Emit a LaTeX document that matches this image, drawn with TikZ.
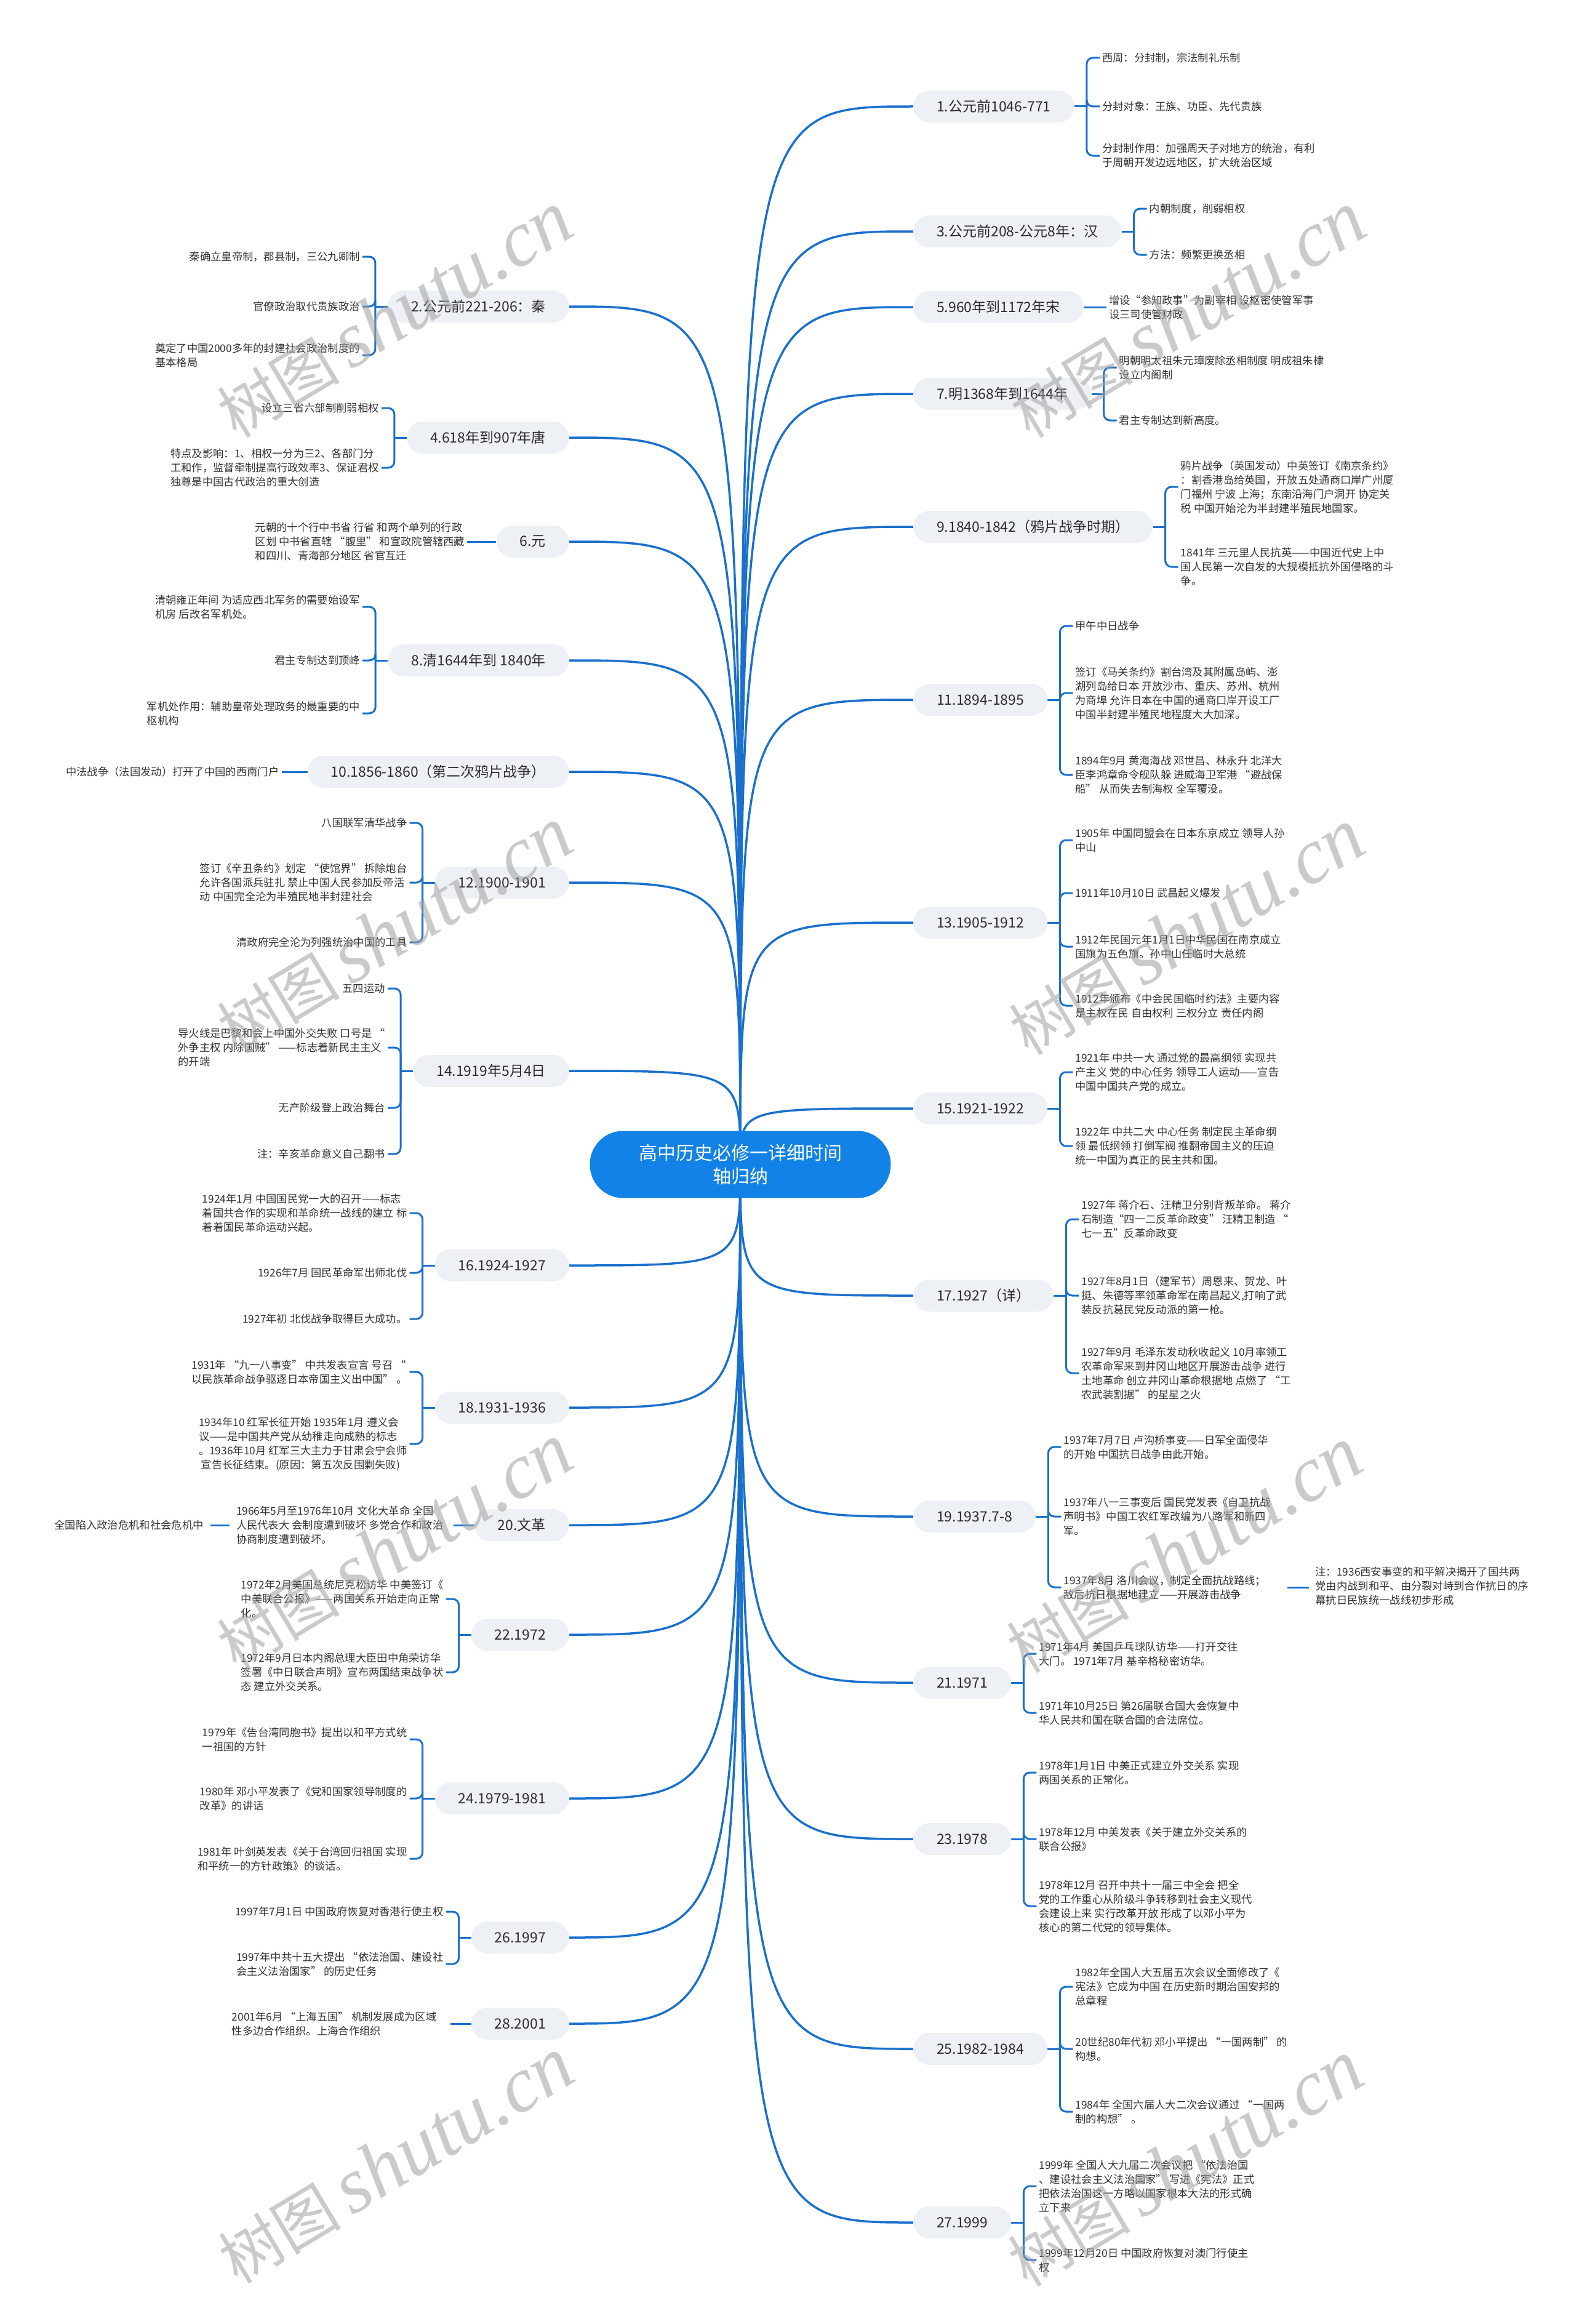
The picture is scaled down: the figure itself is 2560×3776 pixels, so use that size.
\documentclass[tikz,border=0pt]{standalone}
\usepackage{fontspec}
\setmainfont{Noto Sans CJK SC}
\newfontfamily\wmlatin{Liberation Serif}
\usetikzlibrary{calc}
\definecolor{linecol}{HTML}{1A70CD}
\definecolor{centerfill}{HTML}{1282E6}
\definecolor{lvlfill}{HTML}{EDF1F5}
\definecolor{txt}{HTML}{2B2B2B}
\definecolor{leaftxt}{HTML}{333333}
\definecolor{wmcol}{HTML}{A0A0A0}
\pgfdeclarelayer{background}
\pgfsetlayers{background,main}
\tikzset{
 lvl1/.style={fill=lvlfill, rounded corners=26pt, minimum height=52pt, inner xsep=38pt, inner ysep=0pt, text=txt, font=\fontsize{23}{28}\selectfont},
 leafbase/.style={align=left, inner sep=4pt, text=leaftxt, font=\fontsize{17.3}{23}\selectfont},
 leafR/.style={leafbase, anchor=west},
 leafL/.style={leafbase, anchor=east},
 conn/.style={draw=linecol, line width=3pt},
 brk/.style={conn, rounded corners=10pt},
 mainline/.style={draw=linecol, line width=3.5pt},
 hub/.style={fill=centerfill, text=white, rounded corners=54pt, minimum width=489pt, minimum height=109pt, align=center, font=\fontsize{30}{38}\selectfont},
 wm/.style={text=wmcol, text opacity=0.55, rotate=31, inner sep=0pt}
}
\newcommand\rnode[3]{\node[lvl1,anchor=west] (#1) at (1484,#2) {#3};
 \begin{pgfonlayer}{background}\draw[mainline] (c.center) .. controls (c.center |- #1.west) .. (#1.west);\end{pgfonlayer}}
\newcommand\lnode[3]{\node[lvl1,anchor=east] (#1) at (925,#2) {#3};
 \begin{pgfonlayer}{background}\draw[mainline] (c.center) .. controls (c.center |- #1.east) .. (#1.east);\end{pgfonlayer}}
\newcommand\rstub[1]{\begin{pgfonlayer}{background}\draw[conn] (#1.east) -- ++(20,0);\end{pgfonlayer}}
\newcommand\lstub[1]{\begin{pgfonlayer}{background}\draw[conn] (#1.west) -- ++(-20,0);\end{pgfonlayer}}
\newcommand\rleaf[4]{\node[leafR] (#1) at ($(#2.east|-0,#3)+(41,0)$) {#4};
 \begin{pgfonlayer}{background}\draw[brk] ([xshift=20pt]#2.east) |- (#1.west);\end{pgfonlayer}}
\newcommand\lleaf[4]{\node[leafL] (#1) at ($(#2.west|-0,#3)+(-41,0)$) {#4};
 \begin{pgfonlayer}{background}\draw[brk] ([xshift=-20pt]#2.west) |- (#1.east);\end{pgfonlayer}}
\begin{document}
\begin{tikzpicture}[x=1pt,y=-1pt]
\begin{pgfonlayer}{background}
\fill[white] (0,0) rectangle (2560,3776);
\end{pgfonlayer}
\useasboundingbox (0,0) rectangle (2560,3776);

\node[hub] (c) at (1203,1892) {高中历史必修一详细时间\\轴归纳};

% ---------- right side ----------
\rnode{n1}{173}{1.公元前1046-771}\rstub{n1}
\rleaf{n1a}{n1}{94}{西周：分封制，宗法制礼乐制}
\rleaf{n1b}{n1}{173}{分封对象：王族、功臣、先代贵族}
\rleaf{n1c}{n1}{253}{分封制作用：加强周天子对地方的统治，有利\\于周朝开发边远地区，扩大统治区域}

\rnode{n3}{376}{3.公元前208-公元8年：汉}\rstub{n3}
\rleaf{n3a}{n3}{339}{内朝制度，削弱相权}
\rleaf{n3b}{n3}{414}{方法：频繁更换丞相}

\rnode{n5}{499}{5.960年到1172年宋}
\node[leafR] (n5a) at ($(n5.east)+(37,0)$) {增设“参知政事”为副宰相 设枢密使管军事\\设三司使管财政};
\begin{pgfonlayer}{background}\draw[conn] (n5.east) -- (n5a.west);\end{pgfonlayer}

\rnode{n7}{640}{7.明1368年到1644年}\rstub{n7}
\rleaf{n7a}{n7}{597}{明朝明太祖朱元璋废除丞相制度 明成祖朱棣\\设立内阁制}
\rleaf{n7b}{n7}{683}{君主专制达到新高度。}

\rnode{n9}{856}{9.1840-1842（鸦片战争时期）}\rstub{n9}
\rleaf{n9a}{n9}{791}{鸦片战争（英国发动）中英签订《南京条约》\\：割香港岛给英国，开放五处通商口岸广州厦\\门福州 宁波 上海；东南沿海门户洞开 协定关\\税 中国开始沦为半封建半殖民地国家。}
\rleaf{n9b}{n9}{921}{1841年 三元里人民抗英——中国近代史上中\\国人民第一次自发的大规模抵抗外国侵略的斗\\争。}

\rnode{n11}{1137}{11.1894-1895}\rstub{n11}
\rleaf{n11a}{n11}{1017}{甲午中日战争}
\rleaf{n11b}{n11}{1126}{签订《马关条约》割台湾及其附属岛屿、澎\\湖列岛给日本 开放沙市、重庆、苏州、杭州\\为商埠 允许日本在中国的通商口岸开设工厂\\中国半封建半殖民地程度大大加深。}
\rleaf{n11c}{n11}{1259}{1894年9月 黄海海战 邓世昌、林永升 北洋大\\臣李鸿章命令舰队躲 进威海卫军港 “避战保\\船” 从而失去制海权 全军覆没。}

\rnode{n13}{1499}{13.1905-1912}\rstub{n13}
\rleaf{n13a}{n13}{1365}{1905年 中国同盟会在日本东京成立 领导人孙\\中山}
\rleaf{n13b}{n13}{1451}{1911年10月10日 武昌起义爆发}
\rleaf{n13c}{n13}{1538}{1912年民国元年1月1日中华民国在南京成立\\国旗为五色旗。孙中山任临时大总统}
\rleaf{n13d}{n13}{1634}{1912年颁布《中会民国临时约法》主要内容\\是主权在民 自由权利 三权分立 责任内阁}

\rnode{n15}{1801}{15.1921-1922}\rstub{n15}
\rleaf{n15a}{n15}{1742}{1921年 中共一大 通过党的最高纲领 实现共\\产主义 党的中心任务 领导工人运动——宣告\\中国中国共产党的成立。}
\rleaf{n15b}{n15}{1862}{1922年 中共二大 中心任务 制定民主革命纲\\领 最低纲领 打倒军阀 推翻帝国主义的压迫\\统一中国为真正的民主共和国。}

\rnode{n17}{2105}{17.1927（详）}\rstub{n17}
\rleaf{n17a}{n17}{1981}{1927年 蒋介石、汪精卫分别背叛革命。 蒋介\\石制造“四一二反革命政变” 汪精卫制造 “\\七一五”反革命政变}
\rleaf{n17b}{n17}{2105}{1927年8月1日（建军节）周恩来、贺龙、叶\\挺、朱德等率领革命军在南昌起义,打响了武\\装反抗葛民党反动派的第一枪。}
\rleaf{n17c}{n17}{2231}{1927年9月 毛泽东发动秋收起义 10月率领工\\农革命军来到井冈山地区开展游击战争 进行\\土地革命 创立井冈山革命根据地 点燃了 “工\\农武装割据” 的星星之火}

\rnode{n19}{2464}{19.1937.7-8}\rstub{n19}
\rleaf{n19a}{n19}{2351}{1937年7月7日 卢沟桥事变——日军全面侵华\\的开始 中国抗日战争由此开始。}
\rleaf{n19b}{n19}{2464}{1937年八一三事变后 国民党发表《自卫抗战\\声明书》中国工农红军改编为八路军和新四\\军。}
\rleaf{n19c}{n19}{2579}{1937年8月 洛川会议，制定全面抗战路线；\\敌后抗日根据地建立——开展游击战争}
\node[leafR] (n19d) at ($(n19c.east)+(72,-2)$) {注：1936西安事变的和平解决揭开了国共两\\党由内战到和平、由分裂对峙到合作抗日的序\\幕抗日民族统一战线初步形成};
\begin{pgfonlayer}{background}\draw[conn, shorten <=31pt, shorten >=6pt] (n19c.east) -- (n19c.east -| n19d.west);\end{pgfonlayer}

\rnode{n21}{2734}{21.1971}\rstub{n21}
\rleaf{n21a}{n21}{2687}{1971年4月 美国乒乓球队访华——打开交往\\大门。 1971年7月 基辛格秘密访华。}
\rleaf{n21b}{n21}{2783}{1971年10月25日 第26届联合国大会恢复中\\华人民共和国在联合国的合法席位。}

\rnode{n23}{2988}{23.1978}\rstub{n23}
\rleaf{n23a}{n23}{2880}{1978年1月1日 中美正式建立外交关系 实现\\两国关系的正常化。}
\rleaf{n23b}{n23}{2988}{1978年12月 中美发表《关于建立外交关系的\\联合公报》}
\rleaf{n23c}{n23}{3097}{1978年12月 召开中共十一届三中全会 把全\\党的工作重心从阶级斗争转移到社会主义现代\\会建设上来 实行改革开放 形成了以邓小平为\\核心的第二代党的领导集体。}

\rnode{n25}{3329}{25.1982-1984}\rstub{n25}
\rleaf{n25a}{n25}{3228}{1982年全国人大五届五次会议全面修改了《\\宪法》它成为中国 在历史新时期治国安邦的\\总章程}
\rleaf{n25b}{n25}{3329}{20世纪80年代初 邓小平提出 “一国两制” 的\\构想。}
\rleaf{n25c}{n25}{3431}{1984年 全国六届人大二次会议通过 “一国两\\制的构想” 。}

\rnode{n27}{3611}{27.1999}\rstub{n27}
\rleaf{n27a}{n27}{3552}{1999年 全国人大九届二次会议把 “依法治国\\、建设社会主义法治国家” 写进《宪法》正式\\把依法治国这一方略以国家根本大法的形式确\\立下来}
\rleaf{n27b}{n27}{3672}{1999年12月20日 中国政府恢复对澳门行使主\\权}

% ---------- left side ----------
\lnode{n2}{498}{2.公元前221-206：秦}\lstub{n2}
\lleaf{n2a}{n2}{417}{秦确立皇帝制，郡县制，三公九卿制}
\lleaf{n2b}{n2}{498}{官僚政治取代贵族政治}
\lleaf{n2c}{n2}{577}{奠定了中国2000多年的封建社会政治制度的\\基本格局}

\lnode{n4}{711}{4.618年到907年唐}\lstub{n4}
\lleaf{n4a}{n4}{663}{设立三省六部制削弱相权}
\lleaf{n4b}{n4}{760}{特点及影响：1、相权一分为三2、各部门分\\工和作，监督牵制提高行政效率3、保证君权\\独尊是中国古代政治的重大创造}

\lnode{n6}{880}{6.元}
\node[leafL] (n6a) at ($(n6.west)+(-47,0)$) {元朝的十个行中书省 行省 和两个单列的行政\\区划 中书省直辖 “腹里” 和宣政院管辖西藏\\和四川、青海部分地区 省官互迁};
\begin{pgfonlayer}{background}\draw[conn] (n6.west) -- (n6a.east);\end{pgfonlayer}

\lnode{n8}{1073}{8.清1644年到 1840年}\lstub{n8}
\lleaf{n8a}{n8}{986}{清朝雍正年间 为适应西北军务的需要始设军\\机房 后改名军机处。}
\lleaf{n8b}{n8}{1073}{君主专制达到顶峰}
\lleaf{n8c}{n8}{1159}{军机处作用：辅助皇帝处理政务的最重要的中\\枢机构}

\lnode{n10}{1254}{10.1856-1860（第二次鸦片战争）}
\node[leafL] (n10a) at ($(n10.west)+(-42,0)$) {中法战争（法国发动）打开了中国的西南门户};
\begin{pgfonlayer}{background}\draw[conn] (n10.west) -- (n10a.east);\end{pgfonlayer}

\lnode{n12}{1434}{12.1900-1901}\lstub{n12}
\lleaf{n12a}{n12}{1337}{八国联军清华战争}
\lleaf{n12b}{n12}{1434}{签订《辛丑条约》划定 “使馆界” 拆除炮台\\允许各国派兵驻扎 禁止中国人民参加反帝活\\动 中国完全沦为半殖民地半封建社会}
\lleaf{n12c}{n12}{1531}{清政府完全沦为列强统治中国的工具}

\lnode{n14}{1740}{14.1919年5月4日}\lstub{n14}
\lleaf{n14a}{n14}{1606}{五四运动}
\lleaf{n14b}{n14}{1702}{导火线是巴黎和会上中国外交失败 口号是 “\\外争主权 内除国贼” ——标志着新民主主义\\的开端}
\lleaf{n14c}{n14}{1800}{无产阶级登上政治舞台}
\lleaf{n14d}{n14}{1875}{注：辛亥革命意义自己翻书}

\lnode{n16}{2056}{16.1924-1927}\lstub{n16}
\lleaf{n16a}{n16}{1971}{1924年1月 中国国民党一大的召开——标志\\着国共合作的实现和革命统一战线的建立 标\\着着国民革命运动兴起。}
\lleaf{n16b}{n16}{2068}{1926年7月 国民革命军出师北伐}
\lleaf{n16c}{n16}{2143}{1927年初 北伐战争取得巨大成功。}

\lnode{n18}{2287}{18.1931-1936}\lstub{n18}
\lleaf{n18a}{n18}{2229}{1931年 “九一八事变” 中共发表宣言 号召 “\\以民族革命战争驱逐日本帝国主义出中国” 。}
\lleaf{n18b}{n18}{2346}{1934年10 红军长征开始 1935年1月 遵义会\\议——是中国共产党从幼稚走向成熟的标志\\。1936年10月 红军三大主力于甘肃会宁会师\\\ 宣告长征结束。(原因：第五次反围剿失败)}

\lnode{n20}{2478}{20.文革}
\node[leafL] (n20a) at ($(n20.west)+(-46,0)$) {1966年5月至1976年10月 文化大革命 全国\\人民代表大 会制度遭到破坏 多党合作和政治\\协商制度遭到破坏。};
\node[leafL] (n20b) at ($(n20a.west)+(-45,0)$) {全国陷入政治危机和社会危机中};
\begin{pgfonlayer}{background}
\draw[conn, shorten <=1pt, shorten >=12pt] (n20.west) -- (n20a.east);
\draw[conn, shorten <=7pt, shorten >=7pt] (n20a.west) -- (n20b.east);
\end{pgfonlayer}

\lnode{n22}{2656}{22.1972}\lstub{n22}
\lleaf{n22a}{n22}{2598}{1972年2月美国总统尼克松访华 中美签订《\\中美联合公报》——两国关系开始走向正常\\化。}
\lleaf{n22b}{n22}{2717}{1972年9月日本内阁总理大臣田中角荣访华\\签署《中日联合声明》宣布两国结束战争状\\态 建立外交关系。}

\lnode{n24}{2922}{24.1979-1981}\lstub{n24}
\lleaf{n24a}{n24}{2826}{1979年《告台湾同胞书》提出以和平方式统\\一祖国的方针}
\lleaf{n24b}{n24}{2922}{1980年 邓小平发表了《党和国家领导制度的\\改革》的讲话}
\lleaf{n24c}{n24}{3020}{1981年 叶剑英发表《关于台湾回归祖国 实现\\和平统一的方针政策》的谈话。}

\lnode{n26}{3148}{26.1997}\lstub{n26}
\lleaf{n26a}{n26}{3106}{1997年7月1日 中国政府恢复对香港行使主权}
\lleaf{n26b}{n26}{3191}{1997年中共十五大提出 “依法治国、建设社\\会主义法治国家” 的历史任务}

\lnode{n28}{3288}{28.2001}
\node[leafL] (n28a) at ($(n28.west)+(-52,0)$) {2001年6月 “上海五国” 机制发展成为区域\\性多边合作组织。上海合作组织};
\begin{pgfonlayer}{background}\draw[conn, shorten >=18pt] (n28.west) -- (n28a.east);\end{pgfonlayer}

% ---------- watermarks ----------
\foreach \wx/\wy [count=\i] in {641/512,1930/512,641/1512,1928/1515,641/2514,1924/2519,643/3511,1926/3516}{
 \node[wm] (wm\i) at (\wx,\wy) {{\fontsize{100}{100}\selectfont 树图}\hspace{18pt}{\wmlatin\itshape\fontsize{128}{128}\selectfont shutu.cn}};
}
\end{tikzpicture}
\end{document}
